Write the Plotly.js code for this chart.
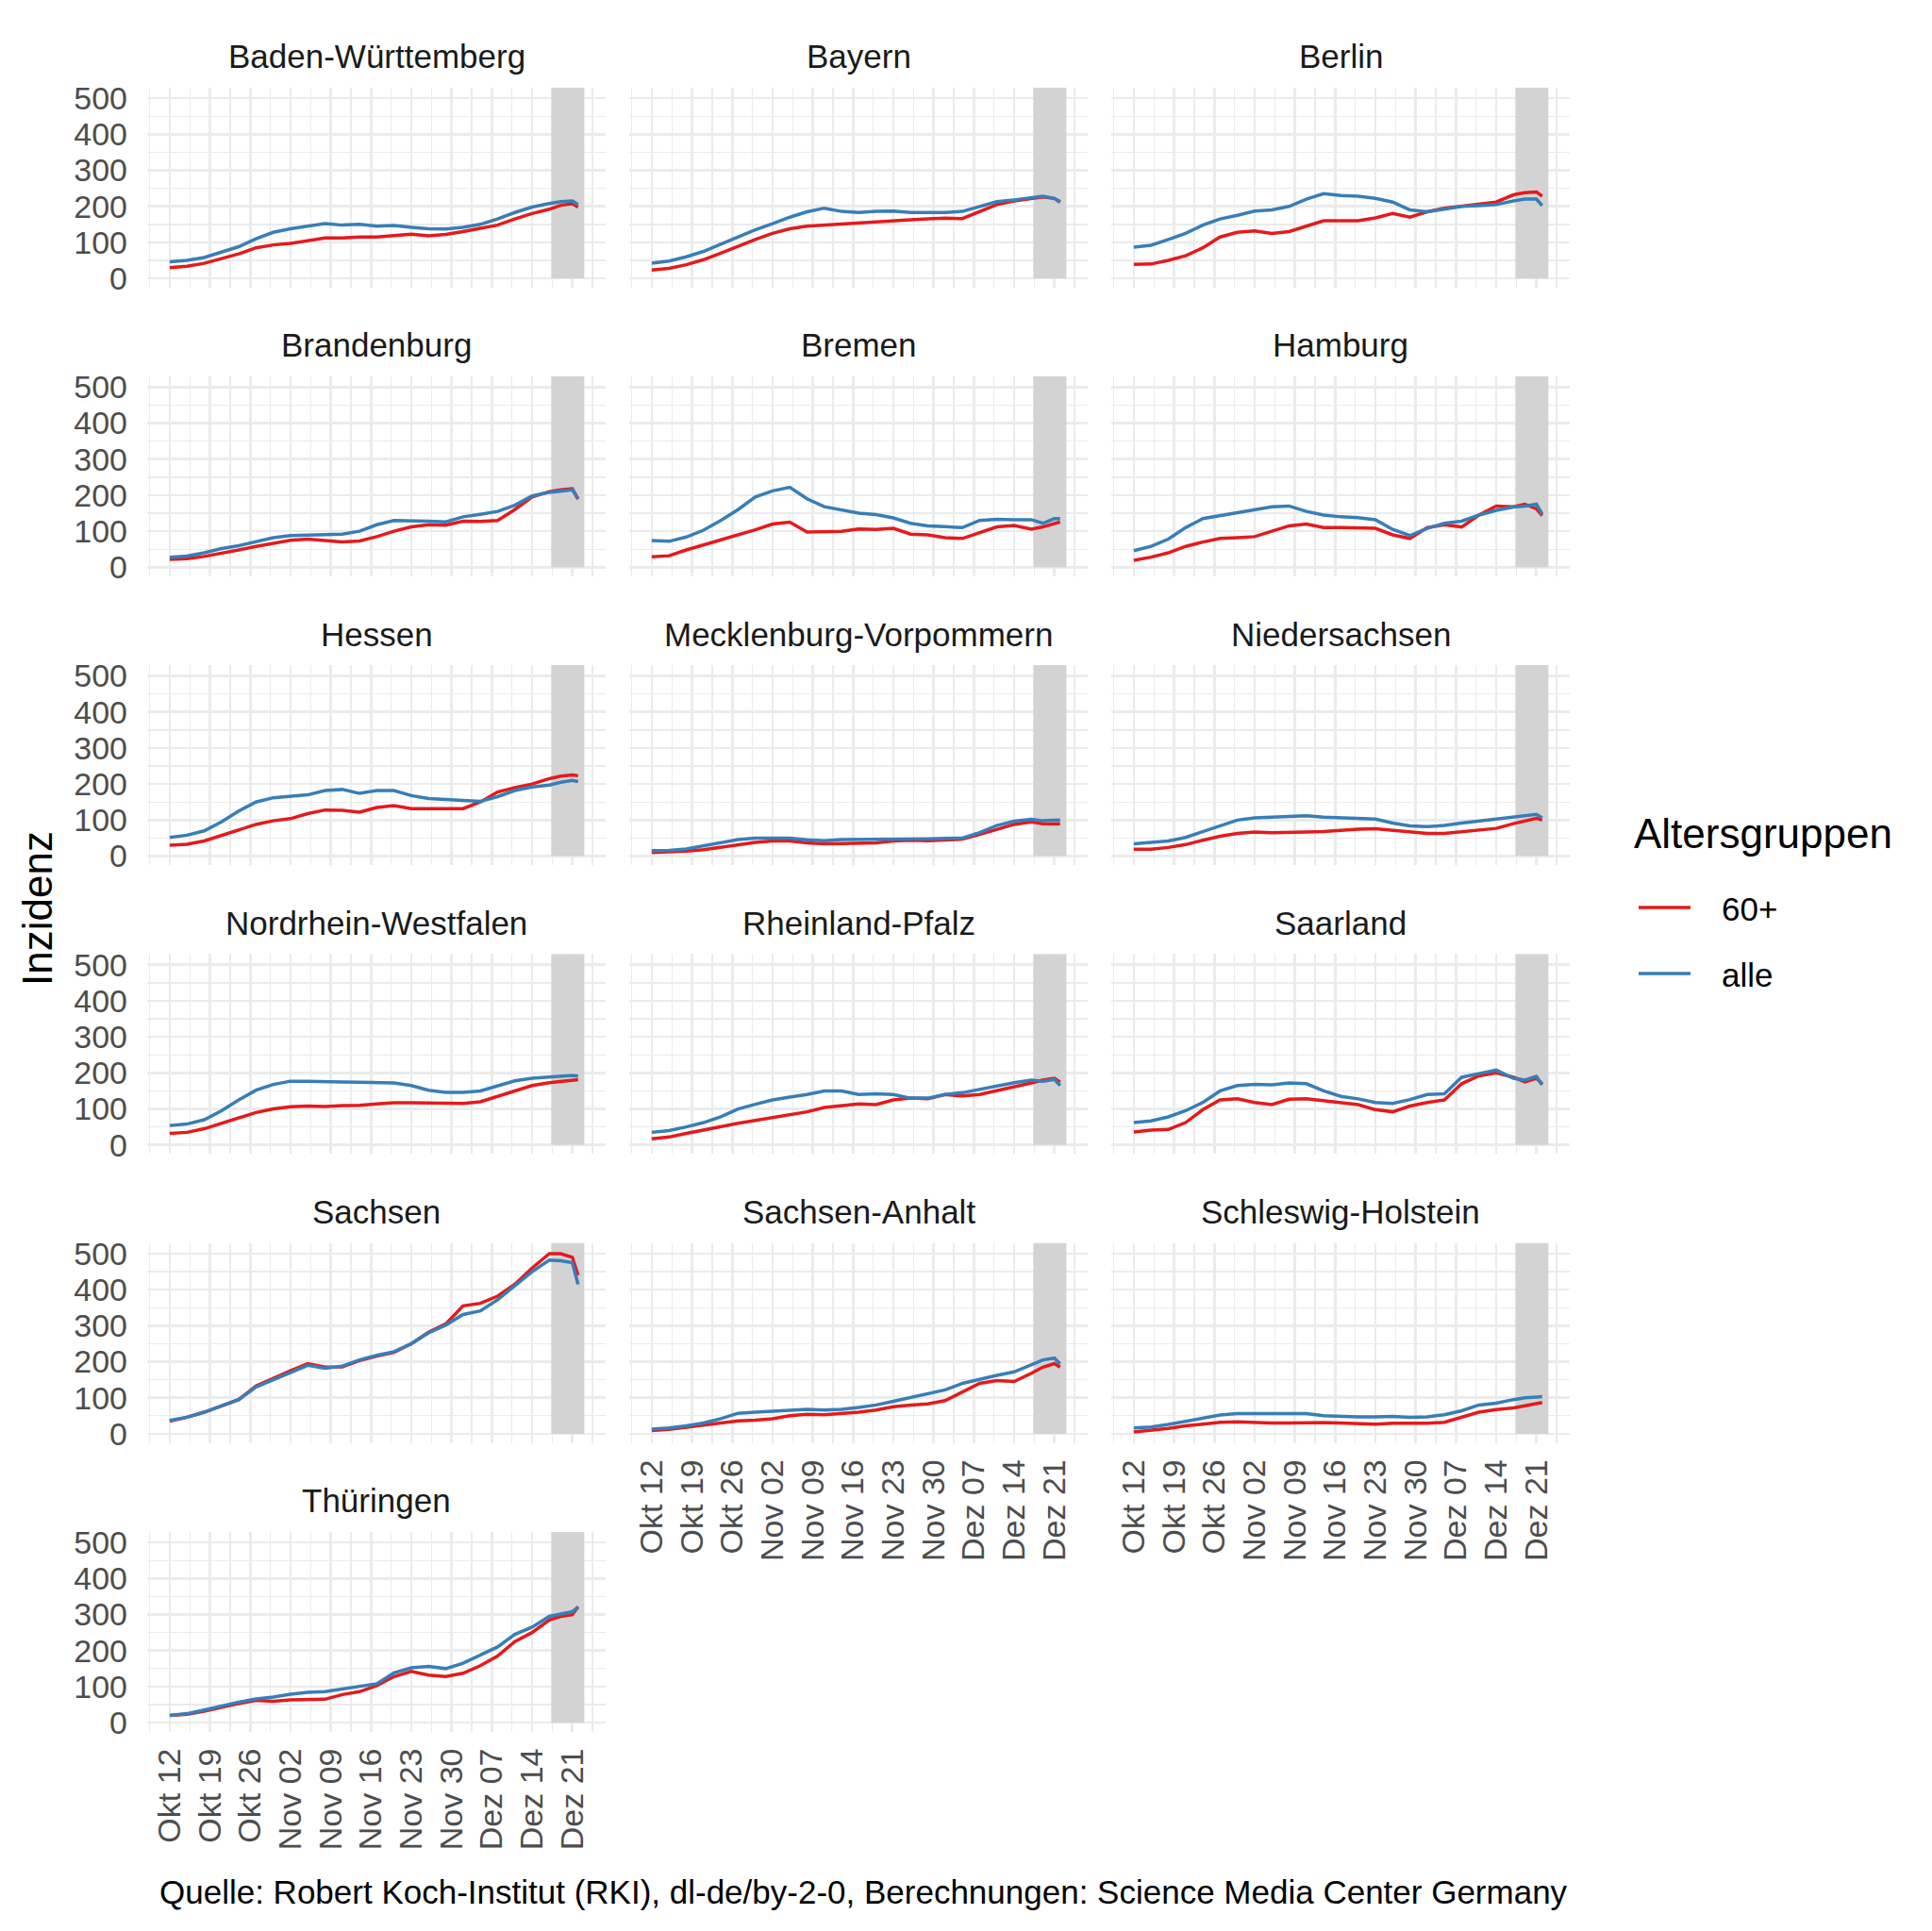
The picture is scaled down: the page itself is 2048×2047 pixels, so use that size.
<!DOCTYPE html>
<html><head><meta charset="utf-8">
<script src="https://cdn.plot.ly/plotly-3.0.1.min.js"></script>
<style>body{margin:0;background:#fff}#chart{width:2048px;height:2047px}</style>
</head><body><div id="chart"></div>
<script>
// ---- data ----
const dates = ['2020-10-12','2020-10-15','2020-10-18','2020-10-21','2020-10-24','2020-10-27','2020-10-30',
  '2020-11-02','2020-11-05','2020-11-08','2020-11-11','2020-11-14','2020-11-17','2020-11-20','2020-11-23',
  '2020-11-26','2020-11-29','2020-12-02','2020-12-05','2020-12-08','2020-12-11','2020-12-14','2020-12-17',
  '2020-12-19','2020-12-21','2020-12-22'];
const stateNames = ['Baden-Württemberg','Bayern','Berlin','Brandenburg','Bremen','Hamburg','Hessen',
  'Mecklenburg-Vorpommern','Niedersachsen','Nordrhein-Westfalen','Rheinland-Pfalz','Saarland',
  'Sachsen','Sachsen-Anhalt','Schleswig-Holstein','Thüringen'];
const groupNames = ['60+','alle'];
const tickDates = ['2020-10-12','2020-10-19','2020-10-26','2020-11-02','2020-11-09','2020-11-16',
  '2020-11-23','2020-11-30','2020-12-07','2020-12-14','2020-12-21'];
const tickLabels = ['Okt 12','Okt 19','Okt 26','Nov 02','Nov 09','Nov 16','Nov 23','Nov 30','Dez 07','Dez 14','Dez 21'];
const yTicks = [0,100,200,300,400,500];
const shadeStart = '2020-12-17 08:00';
const shadeEnd = '2020-12-23 02:00';

const bw60   = [30,34,42,55,68,85,93,97,105,112,112,115,115,120,123,118,122,130,138,148,165,180,192,203,207,198];
const bwAlle = [46,50,58,72,88,110,128,138,146,152,148,150,145,147,142,138,137,142,150,165,183,198,208,213,215,205];
const by60   = [23,28,38,52,70,90,108,125,138,145,148,152,156,158,160,163,165,167,166,185,205,215,222,226,222,213];
const byAlle = [42,48,60,75,95,115,135,152,170,185,195,186,183,186,187,183,182,183,186,200,213,218,225,228,222,211];
const be60   = [39,40,50,63,85,115,128,132,125,130,145,160,160,160,168,180,170,185,195,200,205,212,232,238,240,228];
const beAlle = [87,92,108,125,148,165,175,187,190,200,220,235,230,228,222,212,190,185,192,200,202,205,215,220,220,202];
const bb60   = [22,24,30,38,48,58,66,75,78,75,70,73,85,100,112,118,117,128,127,130,160,195,210,215,218,189];
const bbAlle = [28,31,40,52,60,72,82,88,90,90,92,100,118,130,130,128,126,140,147,155,172,198,208,212,215,191];
const hb60   = [29,32,48,62,75,88,104,120,125,98,100,100,106,105,108,92,90,82,80,95,112,116,106,112,120,126];
const hbAlle = [74,72,84,103,130,160,195,212,222,190,168,160,150,146,137,122,115,113,110,130,133,132,132,122,135,135];
const hh60   = [19,28,40,58,70,80,82,85,100,115,120,110,110,110,108,90,80,110,118,112,145,170,168,175,162,143];
const hhAlle = [46,58,78,110,135,143,150,158,168,170,155,145,140,138,132,105,88,108,122,128,145,158,167,170,175,148];
const he60   = [30,33,42,58,72,88,98,104,118,128,127,122,135,140,132,132,132,132,150,178,190,200,215,222,225,223];
const heAlle = [52,58,70,95,125,150,162,166,170,182,185,174,182,182,168,160,158,155,152,165,182,192,197,205,210,207];
const mv60   = [10,11,14,18,25,32,38,42,42,37,34,35,36,37,42,44,43,44,47,60,75,88,95,90,89,90];
const mvAlle = [15,16,20,28,38,46,50,51,50,45,43,46,46,47,47,47,48,49,50,65,85,97,102,98,100,100];
const ni60   = [19,19,24,32,44,55,63,67,65,67,67,68,72,75,76,72,66,63,63,68,74,77,90,98,105,100];
const niAlle = [34,37,42,52,68,85,100,106,108,110,112,108,106,106,103,92,84,82,85,92,98,102,108,112,116,106];
const nw60   = [32,35,45,60,75,90,100,106,108,107,109,110,114,117,117,117,115,115,120,135,152,165,173,177,180,181];
const nwAlle = [54,58,70,95,125,152,168,177,177,175,175,174,174,172,165,152,146,146,150,165,178,185,189,191,193,191];
const rp60   = [17,22,32,42,52,60,68,76,84,92,104,108,114,112,125,130,128,140,136,140,150,162,172,180,185,174];
const rpAlle = [35,40,50,62,78,100,113,125,133,140,150,150,140,142,140,130,130,140,145,155,165,173,180,177,182,165];
const sl60   = [36,41,43,62,98,125,128,118,112,127,128,122,118,112,98,92,108,118,125,170,192,200,188,175,185,169];
const slAlle = [62,67,78,95,118,150,165,168,167,172,170,150,135,128,118,115,126,140,142,188,198,208,185,180,190,167];
const sn60   = [35,46,60,78,95,133,155,175,195,185,186,203,216,226,250,282,305,355,362,382,415,460,500,500,490,440];
const snAlle = [37,46,60,78,95,130,150,172,190,182,188,205,218,228,250,280,302,331,341,372,411,450,482,480,475,415];
const st60   = [9,12,18,24,30,36,38,42,50,54,53,56,60,66,75,80,83,92,115,140,148,145,168,185,195,185];
const stAlle = [13,16,22,30,42,57,60,62,66,68,66,68,73,80,90,100,110,122,140,152,162,172,192,205,210,194];
const sh60   = [5,9,15,22,28,32,33,31,30,30,31,31,30,29,27,29,29,29,32,45,60,67,72,78,84,87];
const shAlle = [16,19,26,35,44,52,56,56,55,56,56,50,48,47,47,48,46,47,53,64,80,85,95,100,102,103];
const th60   = [20,23,32,43,53,62,59,63,65,65,78,86,103,128,142,132,128,137,158,185,225,250,285,295,300,322];
const thAlle = [20,25,35,47,57,66,71,79,84,86,94,100,108,138,152,156,150,165,188,210,245,265,295,302,308,320];

const series60   = [bw60,by60,be60,bb60,hb60,hh60,he60,mv60,ni60,nw60,rp60,sl60,sn60,st60,sh60,th60];
const seriesAlle = [bwAlle,byAlle,beAlle,bbAlle,hbAlle,hhAlle,heAlle,mvAlle,niAlle,nwAlle,rpAlle,slAlle,snAlle,stAlle,shAlle,thAlle];

// ---- layout geometry ----
const W = 2048, H = 2047;
const colX = [[156,642],[667,1153],[1178,1664]];
const rowTop = r => 92.7 + 306.2*r;
const panelH = 212;
const colors = ['#E41A1C','#377EB8'];
const FONT = 'Liberation Sans, Arial, Helvetica, sans-serif';
const grid = '#EBEBEB';

const traces = [];
const layout = {
  width: W, height: H,
  margin: {l:0,r:0,t:0,b:0},
  paper_bgcolor: '#FFFFFF', plot_bgcolor: '#FFFFFF',
  font: {family: FONT, color: '#000000'},
  showlegend: false,
  shapes: [], annotations: []
};

stateNames.forEach((name, k) => {
  const r = Math.floor(k/3), c = k % 3;
  const sfx = k === 0 ? '' : String(k+1);
  const top = rowTop(r), bot = top + panelH;
  const bottomPanel = (k === 13 || k === 14 || k === 15);
  layout['xaxis'+sfx] = {
    domain: [colX[c][0]/W, colX[c][1]/W],
    anchor: 'y'+sfx,
    type: 'date',
    range: ['2020-10-08 02:00','2020-12-26 19:00'],
    tickmode: 'array', tickvals: tickDates, ticktext: tickLabels,
    showticklabels: bottomPanel, tickangle: -90,
    tickfont: {size: 34, color: '#4D4D4D', family: FONT},
    ticks: '', ticklabelstandoff: 10,
    showgrid: true, gridcolor: grid, gridwidth: 2.6,
    minor: {tickmode: 'linear', tick0: '2020-10-08 12:00', dtick: 7*86400000,
            showgrid: true, gridcolor: grid, gridwidth: 1.3},
    zeroline: false, showline: false, fixedrange: true
  };
  layout['yaxis'+sfx] = {
    domain: [1 - bot/H, 1 - top/H],
    anchor: 'x'+sfx,
    range: [-25, 530],
    tickmode: 'array', tickvals: yTicks,
    showticklabels: c === 0,
    tickfont: {size: 34, color: '#4D4D4D', family: FONT},
    ticks: '', ticklabelstandoff: 20,
    showgrid: true, gridcolor: grid, gridwidth: 2.6,
    minor: {tickmode: 'linear', tick0: 50, dtick: 100,
            showgrid: true, gridcolor: grid, gridwidth: 1.3},
    zeroline: false, showline: false, fixedrange: true
  };
  layout.shapes.push({
    type: 'rect', xref: 'x'+sfx, yref: 'y'+sfx, layer: 'between',
    x0: shadeStart, x1: shadeEnd, y0: 0, y1: 530,
    fillcolor: '#D3D3D3', line: {width: 0}
  });
  [series60[k], seriesAlle[k]].forEach((vals, g) => {
    traces.push({
      type: 'scatter', mode: 'lines', x: dates, y: vals,
      xaxis: 'x'+sfx, yaxis: 'y'+sfx, name: groupNames[g],
      line: {color: colors[g], width: 3.5}, hoverinfo: 'skip'
    });
  });
  layout.annotations.push({
    xref: 'paper', yref: 'paper', x: (colX[c][0]+colX[c][1])/2/W, y: 1 - (top-33)/H,
    text: name, showarrow: false, xanchor: 'center', yanchor: 'middle',
    font: {size: 35, color: '#1A1A1A', family: FONT}
  });
});

// axis title
layout.annotations.push({
  xref: 'paper', yref: 'paper', x: 39/W, y: 1 - 963/H, text: 'Inzidenz',
  textangle: -90, showarrow: false, xanchor: 'center', yanchor: 'middle',
  font: {size: 44, color: '#000000', family: FONT}
});
// legend
layout.annotations.push({
  xref: 'paper', yref: 'paper', x: 1730/W, y: 1 - 883/H, text: 'Altersgruppen',
  showarrow: false, xanchor: 'left', yanchor: 'middle',
  font: {size: 44, color: '#000000', family: FONT}
});
const legY = [963, 1033];
groupNames.forEach((g, i) => {
  layout.annotations.push({
    xref: 'paper', yref: 'paper', x: 1823/W, y: 1 - legY[i]/H, text: g,
    showarrow: false, xanchor: 'left', yanchor: 'middle',
    font: {size: 35, color: '#000000', family: FONT}
  });
  layout.shapes.push({
    type: 'line', xref: 'paper', yref: 'paper', x0: 1737/W, x1: 1792/W,
    y0: 1 - (legY[i]-1)/H, y1: 1 - (legY[i]-1)/H, line: {color: colors[i], width: 3.5}
  });
});
// caption
layout.annotations.push({
  xref: 'paper', yref: 'paper', x: 1664/W, y: 1 - 2005/H,
  text: 'Quelle: Robert Koch-Institut (RKI), dl-de/by-2-0, Berechnungen: Science Media Center Germany',
  showarrow: false, xanchor: 'right', yanchor: 'middle',
  font: {size: 35, color: '#000000', family: FONT}
});

Plotly.newPlot('chart', traces, layout, {staticPlot: true, displayModeBar: false});
</script></body></html>
